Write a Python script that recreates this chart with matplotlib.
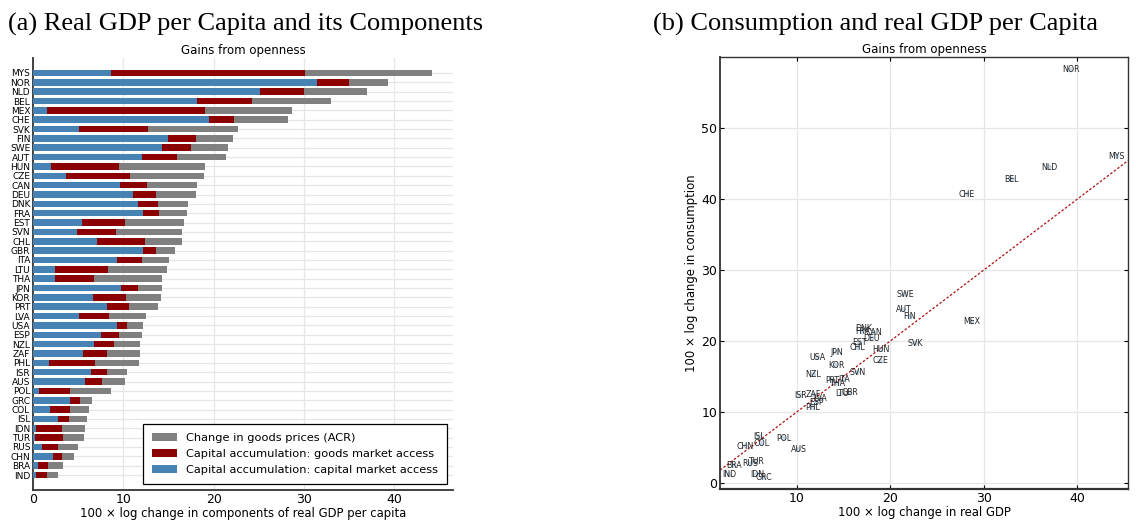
import matplotlib
matplotlib.use("Agg")
import matplotlib.pyplot as plt
import numpy as np

# countries, top to bottom as in the bar chart
countries = ["MYS", "NOR", "NLD", "BEL", "MEX", "CHE", "SVK", "FIN", "SWE", "AUT",
             "HUN", "CZE", "CAN", "DEU", "DNK", "FRA", "EST", "SVN", "CHL", "GBR",
             "ITA", "LTU", "THA", "JPN", "KOR", "PRT", "LVA", "USA", "ESP", "NZL",
             "ZAF", "PHL", "ISR", "AUS", "POL", "GRC", "COL", "ISL", "IDN", "TUR",
             "RUS", "CHN", "BRA", "IND"]

# capital accumulation: capital market access
cap_market = [8.6, 31.4, 25.1, 18.2, 1.55, 19.5, 5.1, 14.9, 14.3, 12.1,
              2.0, 3.65, 9.6, 11.1, 11.6, 12.2, 5.4, 4.9, 7.1, 12.2,
              9.3, 2.4, 2.4, 9.7, 6.6, 8.2, 5.1, 9.3, 7.5, 6.75,
              5.5, 1.8, 6.4, 5.75, 0.66, 4.1, 1.9, 2.8, 0.33, 0.22,
              1.0, 2.2, 0.55, 0.33]
# capital accumulation: goods market access
goods_market = [21.5, 3.6, 4.9, 6.0, 17.45, 2.8, 7.6, 3.1, 3.2, 3.8,
                7.5, 7.05, 3.0, 2.5, 2.2, 1.7, 4.8, 4.3, 5.3, 1.4,
                2.8, 5.9, 4.35, 1.9, 3.7, 2.4, 3.3, 1.1, 2.0, 2.25,
                2.7, 5.1, 1.8, 1.85, 3.44, 1.1, 2.2, 1.2, 2.87, 3.08,
                1.8, 1.0, 1.11, 1.22]
# change in goods prices (ACR)
acr = [14.1, 4.3, 7.0, 8.8, 9.7, 5.9, 10.0, 4.1, 4.1, 5.5,
       9.5, 8.2, 5.6, 4.4, 3.4, 3.1, 6.5, 7.3, 4.1, 2.1,
       3.0, 6.5, 7.55, 2.7, 3.9, 3.2, 4.1, 1.8, 2.6, 2.8,
       3.6, 4.8, 2.2, 2.6, 4.5, 1.3, 2.1, 2.0, 2.55, 2.35,
       2.2, 1.3, 1.64, 1.25]

# consumption change (right panel), same country order
consumption = [46.0, 58.2, 44.5, 42.8, 22.7, 40.7, 19.7, 23.4, 26.6, 24.4,
               18.8, 17.2, 21.2, 20.4, 21.7, 21.3, 19.8, 15.6, 19.1, 12.7,
               14.6, 12.6, 14.0, 18.4, 16.6, 14.4, 11.9, 17.7, 11.4, 15.3,
               12.4, 10.6, 12.3, 4.7, 6.3, 0.8, 5.6, 6.5, 1.2, 3.0,
               2.7, 5.2, 2.5, 1.2]

blue = "#4682B4"
red = "#8B0000"
gray = "#808080"
grid_c = "#e6e6e6"

cap_market = np.array(cap_market)
goods_market = np.array(goods_market)
acr = np.array(acr)
gdp = cap_market + goods_market + acr

fig = plt.figure(figsize=(11.36, 5.21), dpi=100)
title_font = dict(family="Liberation Serif", fontsize=19)

# ---- (a) stacked bars ----
ax1 = fig.add_axes([33 / 1136, 1 - 490 / 521, 420 / 1136, 432 / 521])
ypos = np.arange(len(countries))[::-1]
ax1.barh(ypos, cap_market, height=0.7, color=blue,
         label="Capital accumulation: capital market access", zorder=3)
ax1.barh(ypos, goods_market, left=cap_market, height=0.7, color=red,
         label="Capital accumulation: goods market access", zorder=3)
ax1.barh(ypos, acr, left=cap_market + goods_market, height=0.7, color=gray,
         label="Change in goods prices (ACR)", zorder=3)
ax1.set_yticks(ypos)
ax1.set_yticklabels(countries, fontsize=6.5)
ax1.set_xticks([0, 10, 20, 30, 40])
ax1.set_xlim(0, 46.5)
ax1.set_ylim(-1.6, len(countries) - 1 + 1.6)
ax1.grid(True, color=grid_c, lw=0.9, zorder=0)
ax1.tick_params(axis="x", labelsize=9, direction="in", length=0, pad=2)
ax1.tick_params(axis="y", direction="in", length=0, pad=2)
for s in ["top", "right"]:
    ax1.spines[s].set_visible(False)
for s in ["left", "bottom"]:
    ax1.spines[s].set_linewidth(1.3)
    ax1.spines[s].set_color("#333333")
ax1.set_xlabel("100 × log change in components of real GDP per capita", fontsize=8.4, labelpad=1)
ax1.set_title("Gains from openness", fontsize=8.5, pad=3)
h, l = ax1.get_legend_handles_labels()
leg = ax1.legend(h[::-1], l[::-1], loc="lower right", fontsize=8.2, frameon=True,
                 fancybox=False, edgecolor="black", framealpha=1,
                 handlelength=2.2, borderpad=0.8, labelspacing=0.55)
leg.get_frame().set_linewidth(0.9)
fig.text(8 / 1136, 1 - 24 / 521, "(a) Real GDP per Capita and its Components",
         va="center", ha="left", **title_font)

# ---- (b) scatter ----
ax2 = fig.add_axes([720 / 1136, 1 - 489 / 521, 408 / 1136, 432 / 521])
ax2.scatter(gdp, consumption, s=14, color=blue, alpha=0.3, edgecolors="none", zorder=3)
for c, x, y in zip(countries, gdp, consumption):
    ax2.text(x, y, c, fontsize=5.7, ha="center", va="center", color="#222222", zorder=4)
ax2.set_xlim(1.8, 45.4)
ax2.set_ylim(-0.85, 60)
ax2.plot([1.8, 45.4], [1.8, 45.4], ls=(0, (2, 1.5)), color="#b01010", lw=0.9, zorder=2)
ax2.set_xticks([10, 20, 30, 40])
ax2.set_yticks([0, 10, 20, 30, 40, 50])
ax2.grid(True, color=grid_c, lw=0.9, zorder=0)
ax2.tick_params(labelsize=9, direction="in", length=3, top=True, right=True, pad=2)
for s in ax2.spines.values():
    s.set_linewidth(1.0)
    s.set_color("#333333")
ax2.spines["bottom"].set_linewidth(1.6)
ax2.spines["left"].set_linewidth(1.3)
ax2.set_xlabel("100 × log change in real GDP", fontsize=8.4, labelpad=1)
ax2.set_ylabel("100 × log change in consumption", fontsize=8.4, labelpad=2)
ax2.set_title("Gains from openness", fontsize=8.5, pad=3)
fig.text(653 / 1136, 1 - 24 / 521, "(b) Consumption and real GDP per Capita",
         va="center", ha="left", **title_font)

fig.savefig("out.png", dpi=100)
